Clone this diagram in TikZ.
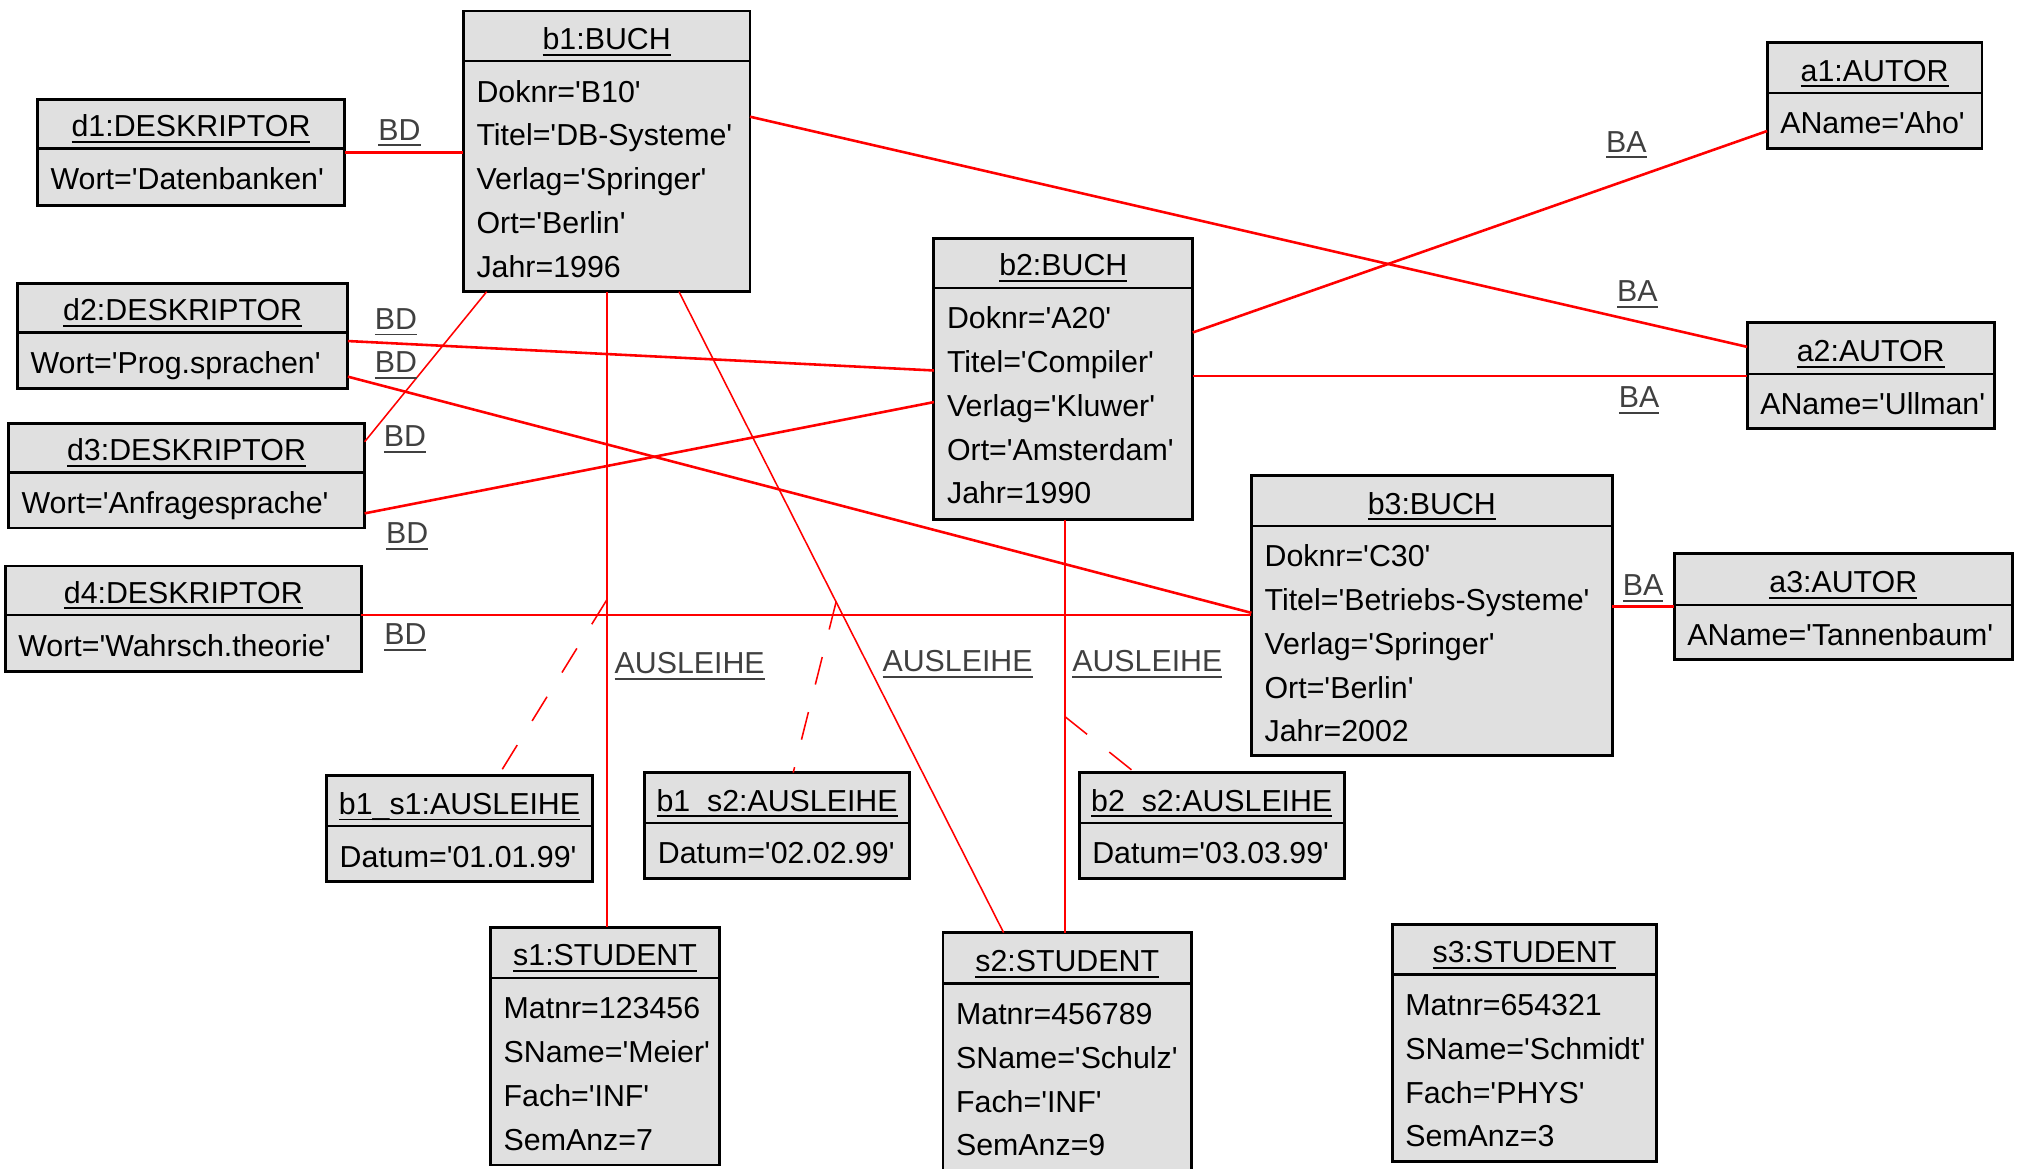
\documentclass[tikz,border=0pt]{standalone}
\usepackage{fontspec}
\setmainfont{Liberation Sans}
\usetikzlibrary{calc}
\definecolor{boxgray}{RGB}{224,224,224}
\definecolor{lblgray}{RGB}{64,64,64}
\newsavebox{\ulinbox}
\newcommand{\ulin}[1]{\sbox{\ulinbox}{#1}\makebox[0pt][l]{\rule[-4.8pt]{\wd\ulinbox}{1.5pt}}\usebox{\ulinbox}}
\newcommand{\fs}{\fontsize{23.5}{28}\selectfont}
\newcommand{\q}{\textquotesingle}
\tikzset{
  objbox/.style={rectangle, draw=black, line width=2.2pt, fill=boxgray, inner sep=0pt, outer sep=0pt, anchor=north west},
  divider/.style={draw=black, line width=1.8pt},
  ttl/.style={anchor=base, inner sep=0pt, font=\fs},
  att/.style={anchor=base west, inner sep=0pt, font=\fs},
  lbl/.style={anchor=base west, inner sep=0pt, font=\fs, text=lblgray},
  assoc/.style={draw=red, line width=2.0pt},
  vlink/.style={draw=red, line width=1.6pt},
  thinlink/.style={draw=red, line width=1.2pt},
  dlink/.style={draw=red, line width=1.2pt, dash pattern=on 22pt off 22pt},
}
\newcommand{\umlobj}[7]{%
  \node[objbox, minimum width={(#4-#2)*1pt}, minimum height={(#5-#3)*1pt}] (#1) at (#2,#3) {};
  \draw[divider] ($(#1.north west)+(0,#6-#3)$) -- ($(#1.north east)+(0,#6-#3)$);
  \node[ttl] (#1-t) at ($(#1.north)+(0,#6-#3-9.2)$) {\ulin{#7}};
}
\newcommand{\umlattrs}[4]{%
  \foreach \txt [count=\i] in {#4} {
    \node[att] (#1-a\i) at ({#2+10},{#3+31.7+(\i-1)*33.9}) {\txt};
  }
}
\begin{document}
\begin{tikzpicture}[x=1pt,y=-1pt]
\path[use as bounding box] (0,0) rectangle (1568,905);
\clip (0,0) rectangle (1568,905);

% ---------- objects ----------
\umlobj{d1}{29}{77}{267}{159}{115}{d1:DESKRIPTOR}
\umlobj{b1}{359}{8.5}{581}{226}{47.5}{b1:BUCH}
\umlobj{d2}{13.5}{219.5}{269.5}{301}{257.5}{d2:DESKRIPTOR}
\umlobj{d3}{6.5}{328}{282.5}{409}{366}{d3:DESKRIPTOR}
\umlobj{d4}{4}{438.5}{280}{520.5}{476.5}{d4:DESKRIPTOR}
\umlobj{b2}{723.5}{185}{924}{402.5}{223}{b2:BUCH}
\umlobj{a1}{1369}{33}{1535.5}{115}{72}{a1:AUTOR}
\umlobj{a2}{1353.5}{250}{1545}{332}{289.5}{a2:AUTOR}
\umlobj{b3}{969.5}{368.5}{1249}{585.5}{407.5}{b3:BUCH}
\umlobj{a3}{1297}{429}{1559}{511}{468.5}{a3:AUTOR}
\umlobj{b1s1}{253}{601}{459}{683}{640}{b1\_s1:AUSLEIHE}
\umlobj{b1s2}{499.5}{598.5}{704.5}{680.5}{637.5}{b1\_s2:AUSLEIHE}
\umlobj{b2s2}{836}{598.5}{1041.5}{680.5}{637.5}{b2\_s2:AUSLEIHE}
\umlobj{s1}{380}{718.5}{557.5}{902.5}{757.5}{s1:STUDENT}
\umlobj{s2}{730.5}{722.5}{923}{915}{762}{s2:STUDENT}
\umlobj{s3}{1078.5}{716.5}{1283.5}{900}{755}{s3:STUDENT}

\umlattrs{d1}{29}{115}{Wort=\q Datenbanken\q}
\umlattrs{b1}{359}{47.5}{Doknr=\q B10\q, Titel=\q DB-Systeme\q, Verlag=\q Springer\q, Ort=\q Berlin\q, Jahr=1996}
\umlattrs{d2}{13.5}{257.5}{Wort=\q Prog.sprachen\q}
\umlattrs{d3}{6.5}{366}{Wort=\q Anfragesprache\q}
\umlattrs{d4}{4}{476.5}{Wort=\q Wahrsch.theorie\q}
\umlattrs{b2}{723.5}{223}{Doknr=\q A20\q, Titel=\q Compiler\q, Verlag=\q Kluwer\q, Ort=\q Amsterdam\q, Jahr=1990}
\umlattrs{a1}{1369}{72}{AName=\q Aho\q}
\umlattrs{a2}{1353.5}{289.5}{AName=\q Ullman\q}
\umlattrs{b3}{969.5}{407.5}{Doknr=\q C30\q, Titel=\q Betriebs-Systeme\q, Verlag=\q Springer\q, Ort=\q Berlin\q, Jahr=2002}
\umlattrs{a3}{1297}{468.5}{AName=\q Tannenbaum\q}
\umlattrs{b1s1}{253}{640}{Datum=\q 01.01.99\q}
\umlattrs{b1s2}{499.5}{637.5}{Datum=\q 02.02.99\q}
\umlattrs{b2s2}{836}{637.5}{Datum=\q 03.03.99\q}
\umlattrs{s1}{380}{757.5}{Matnr=123456, SName=\q Meier\q, Fach=\q INF\q, SemAnz=7}
\umlattrs{s2}{730.5}{762}{Matnr=456789, SName=\q Schulz\q, Fach=\q INF\q, SemAnz=9}
\umlattrs{s3}{1078.5}{755}{Matnr=654321, SName=\q Schmidt\q, Fach=\q PHYS\q, SemAnz=3}

% ---------- connectors ----------
\draw[assoc] (d1.east) -- (d1.east -| b1.west);
\draw[assoc] ($(d2.north east)+(0,44.7)$) -- ($(b2.north west)+(0,102)$);
\draw[assoc] ($(d2.north east)+(0,72.3)$) -- ($(b3.north west)+(0,106.3)$);
\draw[thinlink] ($(d3.north east)+(0,14.2)$) -- ($(b1.south west)+(18,0)$);
\draw[assoc] ($(d3.north east)+(0,69.7)$) -- ($(b2.north west)+(0,126.5)$);
\coordinate (d4b3) at ($(d4.north east)+(0,38)$);
\draw[assoc] (d4b3) -- (d4b3 -| b3.west);
\draw[assoc] ($(b1.north east)+(0,81.9)$) -- ($(a2.north west)+(0,18.7)$);
\draw[assoc] ($(b2.north east)+(0,72.6)$) -- ($(a1.north west)+(0,68.5)$);
\coordinate (b2a2) at ($(b2.north east)+(0,106.3)$);
\draw[assoc] (b2a2) -- (b2a2 -| a2.west);
\coordinate (b3a3) at ($(b3.north east)+(0,101.3)$);
\draw[assoc] (b3a3) -- (b3a3 -| a3.west);

\draw[vlink] (b1.south) -- coordinate[pos=0.485] (j1) (b1.south |- s1.north);
\draw[thinlink] ($(b1.south west)+(167,0)$) -- coordinate[pos=0.484] (j2) ($(s2.north west)+(47,0)$);
\coordinate (b2s) at ($(b2.south west)+(101.5,0)$);
\draw[vlink] (b2s) -- coordinate[pos=0.477] (j3) (b2s |- s2.north);

\draw[dlink] (j1) -- ($(b1s1.north west)+(133,0)$);
\draw[dlink] (j2) -- ($(b1s2.north west)+(115,0)$);
\draw[dlink] (j3) -- ($(b2s2.north west)+(43.2,0)$);

% ---------- labels ----------
\node[lbl] (l1) at (293,108.5) {\ulin{BD}};
\node[lbl] (l2) at (290.2,255.1) {\ulin{BD}};
\node[lbl] (l3) at (290.2,288.5) {\ulin{BD}};
\node[lbl] (l4) at (297.2,346) {\ulin{BD}};
\node[lbl] (l5) at (299,420.9) {\ulin{BD}};
\node[lbl] (l6) at (297.5,499.5) {\ulin{BD}};
\node[lbl] (l7) at (1244,117.8) {\ulin{BA}};
\node[lbl] (l8) at (1252.6,233.5) {\ulin{BA}};
\node[lbl] (l9) at (1254,316) {\ulin{BA}};
\node[lbl] (l10) at (1257,461.5) {\ulin{BA}};
\node[lbl] (l11) at (476,522) {\ulin{AUSLEIHE}};
\node[lbl] (l12) at (683.5,520.4) {\ulin{AUSLEIHE}};
\node[lbl] (l13) at (830.5,520.4) {\ulin{AUSLEIHE}};
\end{tikzpicture}
\end{document}
